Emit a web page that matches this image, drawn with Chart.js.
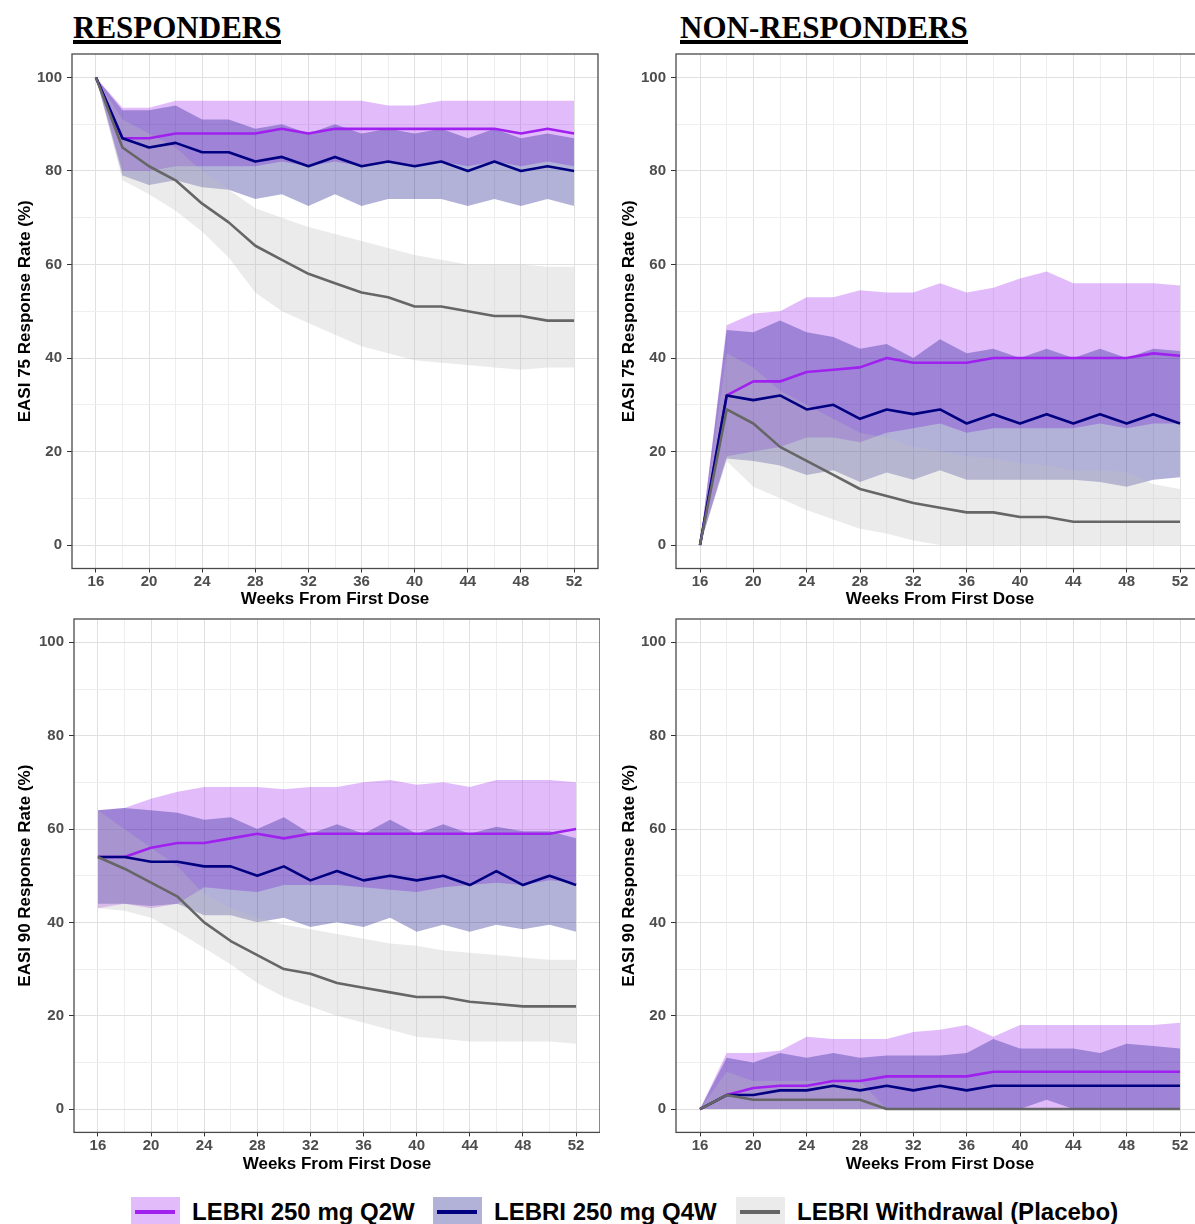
<!DOCTYPE html>
<html>
<head>
<meta charset="utf-8">
<title>EASI response over time</title>
<script src="https://cdn.jsdelivr.net/npm/chart.js@4.4.1/dist/chart.umd.min.js"></script>
<style>
  body { margin: 0; background: #fff; overflow: hidden; }
  #page { position: relative; width: 1195px; height: 1224px; overflow: hidden; background: #fff; }
  canvas { position: absolute; }
  .title { position: absolute; top: 15px; font-family: "Liberation Serif", "Times New Roman", serif; font-weight: bold; font-size: 31px; line-height: 25px; border-bottom: 4px solid #000; color: #000; white-space: nowrap; }
  .key { position: absolute; top: 1197px; width: 49px; height: 30px; }
  .key div { position: absolute; left: 4px; right: 5px; top: 13px; height: 4px; }
  .ltxt { position: absolute; top: 1200px; font: bold 24px/24px "Liberation Sans", Arial, sans-serif; color: #000; white-space: nowrap; }
</style>
</head>
<body>
<div id="page">
  <div class="title" style="left:73px">RESPONDERS</div>
  <div class="title" style="left:680px">NON-RESPONDERS</div>

  <canvas id="tl" width="600" height="570" style="left:0px;top:40px"></canvas>
  <canvas id="tr" width="604" height="570" style="left:604px;top:40px"></canvas>
  <canvas id="bl" width="600" height="570" style="left:0px;top:605px"></canvas>
  <canvas id="br" width="604" height="570" style="left:604px;top:605px"></canvas>

  <div class="key" style="left:131px;background:rgba(160,32,240,0.3)"><div style="background:#a020f0"></div></div>
  <div class="ltxt" style="left:192px">LEBRI 250 mg Q2W</div>
  <div class="key" style="left:433px;background:rgba(0,0,128,0.3)"><div style="background:#000080"></div></div>
  <div class="ltxt" style="left:494px">LEBRI 250 mg Q4W</div>
  <div class="key" style="left:736px;background:rgba(190,190,190,0.3)"><div style="background:#666666"></div></div>
  <div class="ltxt" style="left:797px">LEBRI Withdrawal (Placebo)</div>
</div>

<script>
// weeks from first dose (every 2 weeks)
const weeks = [16, 18, 20, 22, 24, 26, 28, 30, 32, 34, 36, 38, 40, 42, 44, 46, 48, 50, 52];
const xTickLabels = [16, 20, 24, 28, 32, 36, 40, 44, 48, 52];
const yTickLabels = [0, 20, 40, 60, 80, 100];

// EASI 75 - responders
const q2wMeanE75R = [100, 87, 87, 88, 88, 88, 88, 89, 88, 89, 89, 89, 89, 89, 89, 89, 88, 89, 88];
const q2wUpE75R   = [100, 93.5, 93.5, 95, 95, 95, 95, 95, 95, 95, 95, 94, 94, 95, 95, 95, 95, 95, 95];
const q2wLoE75R   = [100, 80, 80, 81, 81, 81, 81, 82, 81, 82, 81, 82, 81, 82, 81, 82, 81, 82, 81];
const q4wMeanE75R = [100, 87, 85, 86, 84, 84, 82, 83, 81, 83, 81, 82, 81, 82, 80, 82, 80, 81, 80];
const q4wUpE75R   = [100, 93, 93, 94, 91, 91, 89, 90, 88, 90, 88, 89, 88, 89, 87, 89, 87, 88, 87];
const q4wLoE75R   = [100, 79, 77, 78, 76.5, 76, 74, 75, 72.5, 75, 72.5, 74, 74, 74, 72.5, 74, 72.5, 74, 72.5];
const pboMeanE75R = [100, 85, 81, 78, 73, 69, 64, 61, 58, 56, 54, 53, 51, 51, 50, 49, 49, 48, 48];
const pboUpE75R   = [100, 91, 88, 85, 80, 76, 72, 70, 68, 66.5, 65, 63.5, 62, 61, 60, 60, 60, 59.5, 59.5];
const pboLoE75R   = [100, 78, 75, 71.5, 67, 61.5, 54, 50, 47.5, 45, 42.5, 41, 39.5, 39, 38.5, 38, 37.5, 38, 38];

// EASI 75 - non-responders
const q2wMeanE75N = [0, 32, 35, 35, 37, 37.5, 38, 40, 39, 39, 39, 40, 40, 40, 40, 40, 40, 41, 40.5];
const q2wUpE75N   = [0, 47, 49.5, 50, 53, 53, 54.5, 54, 54, 56, 54, 55, 57, 58.5, 56, 56, 56, 56, 55.5];
const q2wLoE75N   = [0, 19, 20, 21, 23, 23, 22, 24, 25, 26, 24, 25, 25, 25, 25, 26, 25, 26, 26];
const q4wMeanE75N = [0, 32, 31, 32, 29, 30, 27, 29, 28, 29, 26, 28, 26, 28, 26, 28, 26, 28, 26];
const q4wUpE75N   = [0, 46, 45.5, 48, 45.5, 44.5, 42, 43, 40, 44, 41, 42, 40, 42, 40, 42, 40, 42, 41.5];
const q4wLoE75N   = [0, 18.5, 18, 17, 15, 16, 13.5, 15.5, 14, 16, 14, 14, 14, 14, 14, 13.5, 12.5, 14, 14.5];
const pboMeanE75N = [0, 29, 26, 21, 18, 15, 12, 10.5, 9, 8, 7, 7, 6, 6, 5, 5, 5, 5, 5];
const pboUpE75N   = [0, 41, 38, 33, 30, 27, 24, 23, 21, 20, 19, 18.5, 17.5, 17, 16, 16, 15.5, 13, 12];
const pboLoE75N   = [0, 18, 12.5, 10, 7.5, 5.5, 3.5, 2.5, 1, 0, 0, 0, 0, 0, 0, 0, 0, 0, 0];

// EASI 90 - responders
const q2wMeanE90R = [54, 54, 56, 57, 57, 58, 59, 58, 59, 59, 59, 59, 59, 59, 59, 59, 59, 59, 60];
const q2wUpE90R   = [64, 64.5, 66.5, 68, 69, 69, 69, 68.5, 69, 69, 70, 70.5, 69.5, 70, 69, 70.5, 70.5, 70.5, 70];
const q2wLoE90R   = [43, 44, 43, 44, 47.5, 47, 46.5, 48, 48, 48, 47.5, 47, 46.5, 47.5, 48, 48.5, 48, 49, 48.5];
const q4wMeanE90R = [54, 54, 53, 53, 52, 52, 50, 52, 49, 51, 49, 50, 49, 50, 48, 51, 48, 50, 48];
const q4wUpE90R   = [64, 64.5, 64, 63.5, 62, 62.5, 60, 62.5, 59, 61, 59, 62, 59, 61, 59, 60.5, 59.5, 59.5, 58];
const q4wLoE90R   = [44, 44, 43.5, 44, 41.5, 41.5, 40, 41, 39, 40, 39, 41, 38, 39.5, 38, 39.5, 38.5, 39.5, 38];
const pboMeanE90R = [54, 51.5, 48.5, 45.5, 40, 36, 33, 30, 29, 27, 26, 25, 24, 24, 23, 22.5, 22, 22, 22];
const pboUpE90R   = [64, 60, 56, 52, 46, 43, 41, 39.5, 38.5, 37.5, 36.5, 35.5, 35, 34, 33.5, 33, 32.5, 32, 32];
const pboLoE90R   = [43, 42.5, 41, 38, 34.5, 31, 27, 24, 22, 20, 18.5, 17, 15.5, 15, 14.5, 14.5, 14.5, 14.5, 14];

// EASI 90 - non-responders
const q2wMeanE90N = [0, 3, 4.5, 5, 5, 6, 6, 7, 7, 7, 7, 8, 8, 8, 8, 8, 8, 8, 8];
const q2wUpE90N   = [0, 12, 12, 12.5, 15.5, 15, 15, 15, 16.5, 17, 18, 15.5, 18, 18, 18, 18, 18, 18, 18.5];
const q2wLoE90N   = [0, 0, 0, 0, 0, 0, 0, 0, 0, 0, 0, 0, 0, 0, 0, 0, 0, 0, 0];
const q4wMeanE90N = [0, 3, 3, 4, 4, 5, 4, 5, 4, 5, 4, 5, 5, 5, 5, 5, 5, 5, 5];
const q4wUpE90N   = [0, 11, 10, 12, 11, 12, 11, 11.5, 11.5, 11.5, 12, 15, 13, 13, 13, 12, 14, 13.5, 13];
const q4wLoE90N   = [0, 0, 0, 0, 0, 0, 0, 0, 0, 0, 0, 0, 0, 2, 0, 0, 0, 0, 0];
const pboMeanE90N = [0, 3, 2, 2, 2, 2, 2, 0, 0, 0, 0, 0, 0, 0, 0, 0, 0, 0, 0];
const pboUpE90N   = [0, 8, 6, 6, 6, 6, 6, 0, 0, 0, 0, 0, 0, 0, 0, 0, 0, 0, 0];
const pboLoE90N   = [0, 0, 0, 0, 0, 0, 0, 0, 0, 0, 0, 0, 0, 0, 0, 0, 0, 0, 0];

const lineColors = ['#a020f0', '#000080', '#666666'];
const ribbonColors = ['rgba(160,32,240,0.3)', 'rgba(0,0,128,0.3)', 'rgba(190,190,190,0.3)'];

Chart.defaults.font.family = '"Liberation Sans", Arial, sans-serif';

// minor grid lines sit halfway between the labelled ticks
function withMinor(major) {
  const out = [];
  major.forEach((v, i) => {
    out.push(v);
    if (i < major.length - 1) out.push((v + major[i + 1]) / 2);
  });
  return out;
}
const xGrid = withMinor(xTickLabels);
const yGrid = withMinor(yTickLabels);

const toPoints = arr => weeks.map((w, i) => ({ x: w, y: arr[i] }));

// panel border drawn over the ribbons, like ggplot's theme_bw
const framePlugin = {
  id: 'frame',
  afterDatasetsDraw(chart) {
    const { ctx, chartArea: a } = chart;
    ctx.save();
    ctx.strokeStyle = '#4a4a4a';
    ctx.lineWidth = 1.3;
    ctx.strokeRect(a.left, a.top, a.right - a.left, a.bottom - a.top);
    ctx.restore();
  }
};

function makePanel(id, yTitle, means, uppers, lowers, geo) {
  const datasets = [];
  for (let a = 0; a < 3; a++) {
    datasets.push({
      data: toPoints(lowers[a]), borderColor: 'rgba(0,0,0,0)', borderWidth: 0,
      pointRadius: 0, fill: false, order: 30 - a * 2
    });
    datasets.push({
      data: toPoints(uppers[a]), borderColor: 'rgba(0,0,0,0)', borderWidth: 0,
      pointRadius: 0, fill: '-1', backgroundColor: ribbonColors[a], order: 29 - a * 2
    });
  }
  for (let a = 0; a < 3; a++) {
    datasets.push({
      data: toPoints(means[a]), borderColor: lineColors[a], borderWidth: 2.6,
      borderJoinStyle: 'round', pointRadius: 0, fill: false, order: 3 - a
    });
  }

  const isMajorX = c => c.tick && xTickLabels.includes(c.tick.value);
  const isMajorY = c => c.tick && yTickLabels.includes(c.tick.value);

  new Chart(document.getElementById(id), {
    type: 'line',
    data: { datasets },
    plugins: [framePlugin],
    options: {
      responsive: false,
      animation: false,
      layout: { padding: { top: geo.padTop, right: geo.padRight, left: 0, bottom: 0 } },
      plugins: { legend: { display: false }, tooltip: { enabled: false } },
      scales: {
        x: {
          type: 'linear', min: 14.2, max: 53.8,
          afterBuildTicks: s => { s.ticks = xGrid.map(v => ({ value: v })); },
          afterFit: s => { s.height = geo.xHeight; },
          ticks: {
            autoSkip: false, maxRotation: 0, padding: 0, color: '#4d4d4d',
            font: { size: 15, weight: 'bold' },
            callback: v => xTickLabels.includes(v) ? String(v) : ''
          },
          grid: {
            color: c => isMajorX(c) ? '#e0e0e0' : '#eeeeee',
            lineWidth: 1, tickLength: 4,
            tickColor: c => isMajorX(c) ? '#333333' : 'rgba(0,0,0,0)'
          },
          border: { display: false },
          title: {
            display: true, text: 'Weeks From First Dose', color: '#000',
            font: { size: 17, weight: 'bold' }, padding: { top: 0, bottom: 0 }
          }
        },
        y: {
          type: 'linear', min: -5, max: 105,
          afterBuildTicks: s => { s.ticks = yGrid.map(v => ({ value: v })); },
          afterFit: s => { s.width = geo.yWidth; },
          ticks: {
            autoSkip: false, padding: 5, color: '#4d4d4d',
            font: { size: 15, weight: 'bold' },
            callback: v => yTickLabels.includes(v) ? String(v) : ''
          },
          grid: {
            color: c => isMajorY(c) ? '#e0e0e0' : '#eeeeee',
            lineWidth: 1, tickLength: 5,
            tickColor: c => isMajorY(c) ? '#333333' : 'rgba(0,0,0,0)'
          },
          border: { display: false },
          title: {
            display: true, text: yTitle, color: '#000',
            font: { size: 17, weight: 'bold' }, padding: { top: 15, bottom: 0 }
          }
        }
      }
    }
  });
}

const topGeo = { padTop: 12.5, padRight: 2, yWidth: 72, xHeight: 41.5 };
const topRightGeo = { padTop: 12.5, padRight: 4, yWidth: 72, xHeight: 41.5 };
const botGeo = { padTop: 12.6, padRight: 0, yWidth: 74, xHeight: 42.6 };
const botRightGeo = { padTop: 12.6, padRight: 4, yWidth: 72, xHeight: 42.6 };

makePanel('tl', 'EASI 75 Response Rate (%)',
  [q2wMeanE75R, q4wMeanE75R, pboMeanE75R],
  [q2wUpE75R, q4wUpE75R, pboUpE75R],
  [q2wLoE75R, q4wLoE75R, pboLoE75R], topGeo);

makePanel('tr', 'EASI 75 Response Rate (%)',
  [q2wMeanE75N, q4wMeanE75N, pboMeanE75N],
  [q2wUpE75N, q4wUpE75N, pboUpE75N],
  [q2wLoE75N, q4wLoE75N, pboLoE75N], topRightGeo);

makePanel('bl', 'EASI 90 Response Rate (%)',
  [q2wMeanE90R, q4wMeanE90R, pboMeanE90R],
  [q2wUpE90R, q4wUpE90R, pboUpE90R],
  [q2wLoE90R, q4wLoE90R, pboLoE90R], botGeo);

makePanel('br', 'EASI 90 Response Rate (%)',
  [q2wMeanE90N, q4wMeanE90N, pboMeanE90N],
  [q2wUpE90N, q4wUpE90N, pboUpE90N],
  [q2wLoE90N, q4wLoE90N, pboLoE90N], botRightGeo);
</script>
</body>
</html>
